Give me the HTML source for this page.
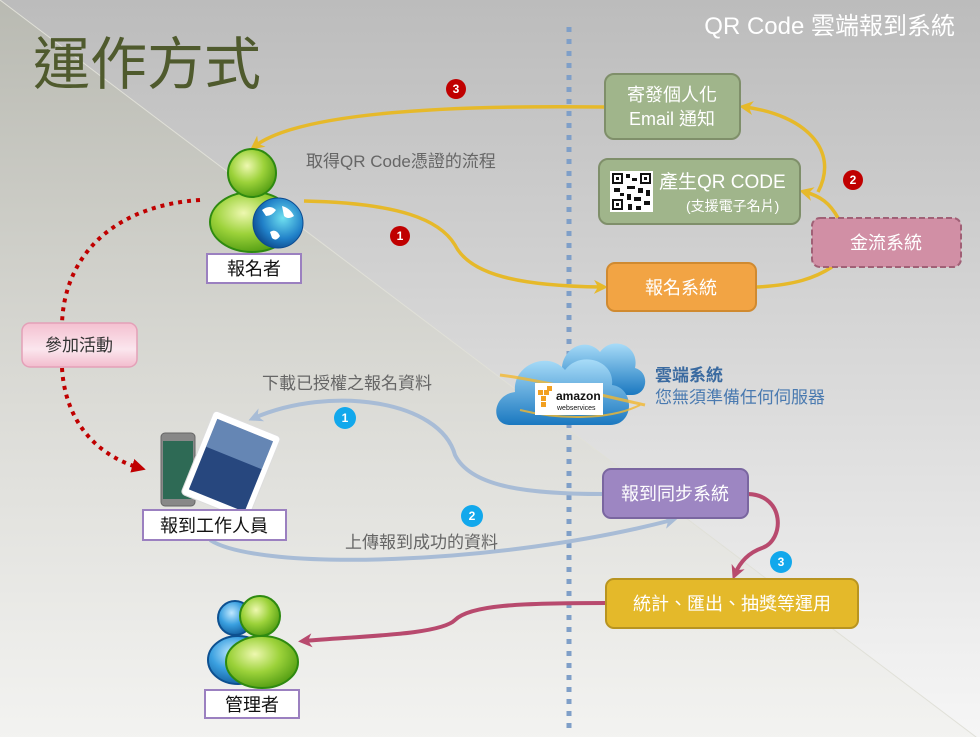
<!DOCTYPE html>
<html><head><meta charset="utf-8"><style>
html,body{margin:0;padding:0;}
body{width:980px;height:737px;overflow:hidden;}
svg{display:block;font-family:"Liberation Sans","Noto Sans CJK TC",sans-serif;}
</style></head><body>
<svg width="980" height="737" viewBox="0 0 980 737" xmlns="http://www.w3.org/2000/svg">
<defs>
<linearGradient id="bg" x1="0" y1="0" x2="0" y2="1">
<stop offset="0" stop-color="#bcbcbc"/><stop offset="0.45" stop-color="#d6d6d6"/><stop offset="1" stop-color="#f6f6f6"/></linearGradient>
<linearGradient id="bg2" x1="0" y1="0" x2="0" y2="1">
<stop offset="0" stop-color="#b9bab2"/><stop offset="0.5" stop-color="#d9d9d4"/><stop offset="1" stop-color="#f3f3f1"/></linearGradient>
<radialGradient id="grn" cx="0.4" cy="0.35" r="0.7"><stop offset="0" stop-color="#eef8b0"/><stop offset="0.5" stop-color="#9cd23a"/><stop offset="1" stop-color="#4e9a10"/></radialGradient>
<radialGradient id="blu" cx="0.4" cy="0.35" r="0.7"><stop offset="0" stop-color="#bfe8ff"/><stop offset="0.5" stop-color="#3aa0e0"/><stop offset="1" stop-color="#105a9a"/></radialGradient>
<radialGradient id="glb" cx="0.6" cy="0.4" r="0.7"><stop offset="0" stop-color="#6fe0f0"/><stop offset="0.6" stop-color="#2080c8"/><stop offset="1" stop-color="#0a3f80"/></radialGradient>
<linearGradient id="cld" x1="0" y1="0" x2="0" y2="1"><stop offset="0" stop-color="#a8dcf8"/><stop offset="1" stop-color="#1a78c0"/></linearGradient>
<linearGradient id="pk" x1="0" y1="0" x2="0" y2="1"><stop offset="0" stop-color="#f4c0d0"/><stop offset="0.6" stop-color="#fbe6ee"/><stop offset="1" stop-color="#f2bccd"/></linearGradient>
<marker id="ay" markerWidth="14" markerHeight="14" refX="8" refY="7" orient="auto" markerUnits="userSpaceOnUse"><path d="M0,0 L14,7 L0,14 L4,7z" fill="#e6b92a"/></marker>
<marker id="ab" markerWidth="14" markerHeight="14" refX="8" refY="7" orient="auto" markerUnits="userSpaceOnUse"><path d="M0,0 L14,7 L0,14 L4,7z" fill="#a8bcd6"/></marker>
<marker id="ap" markerWidth="14" markerHeight="14" refX="8" refY="7" orient="auto" markerUnits="userSpaceOnUse"><path d="M0,0 L14,7 L0,14 L4,7z" fill="#b84a6e"/></marker>
<marker id="ar" markerWidth="14" markerHeight="14" refX="8" refY="7" orient="auto" markerUnits="userSpaceOnUse"><path d="M0,0 L14,7 L0,14z" fill="#c00000"/></marker>
</defs>
<rect width="980" height="737" fill="url(#bg)"/>
<polygon points="0,0 980,740 0,740" fill="url(#bg2)"/>
<line x1="0" y1="0" x2="980" y2="740" stroke="#e0e0d8" stroke-width="1"/>

<text x="33" y="84" font-size="57" fill="#4f5a2d">運作方式</text>
<text x="955" y="34" font-size="24" fill="#ffffff" text-anchor="end">QR Code 雲端報到系統</text>

<line x1="569" y1="27" x2="569" y2="730" stroke="#7f9fc8" stroke-width="5" stroke-dasharray="5 7"/>

<g fill="none" stroke="#e6b92a" stroke-width="3.5">
<path d="M605,107 C450,105 300,112 255,146" marker-end="url(#ay)"/>
<path d="M304,201 C400,203 440,220 455,245 C470,275 520,286 602,287" marker-end="url(#ay)"/>
<path d="M757,287 C795,285 815,278 832,267"/>
<path d="M838,218 C830,203 820,196 805,192" marker-end="url(#ay)"/>
<path d="M818,192 C840,150 805,115 745,107" marker-end="url(#ay)"/>
</g>
<g fill="none" stroke="#c00000" stroke-width="4" stroke-dasharray="4 5">
<path d="M200,200 C120,205 65,250 62,323"/>
<path d="M62,368 C65,420 95,455 140,468" marker-end="url(#ar)"/>
</g>
<g fill="none" stroke="#a8bcd6" stroke-width="4">
<path d="M603,494 C520,494 470,485 455,455 C440,400 330,385 254,418" marker-end="url(#ab)"/>
<path d="M210,540 C260,572 500,565 672,520" marker-end="url(#ab)"/>
</g>
<g fill="none" stroke="#b84a6e" stroke-width="4">
<path d="M748,494 C785,495 785,540 762,548 C748,553 740,562 735,574" marker-end="url(#ap)"/>
<path d="M606,603 C520,603 470,605 455,620 C440,635 360,636 304,641" marker-end="url(#ap)"/>
</g>

<g font-size="12" fill="#fff" text-anchor="middle" font-weight="bold">
<circle cx="456" cy="89" r="10" fill="#c00000"/><text x="456" y="93">3</text>
<circle cx="400" cy="236" r="10" fill="#c00000"/><text x="400" y="240">1</text>
<circle cx="853" cy="180" r="10" fill="#c00000"/><text x="853" y="184">2</text>
<circle cx="345" cy="418" r="11" fill="#12a8ec"/><text x="345" y="422">1</text>
<circle cx="472" cy="516" r="11" fill="#12a8ec"/><text x="472" y="520">2</text>
<circle cx="781" cy="562" r="11" fill="#12a8ec"/><text x="781" y="566">3</text>
</g>

<rect x="605" y="74" width="135" height="65" rx="9" fill="#a0b58b" stroke="#7f8f6a" stroke-width="2"/>
<text x="672" y="101" font-size="18" fill="#fff" text-anchor="middle">寄發個人化</text>
<text x="672" y="125" font-size="18" fill="#fff" text-anchor="middle">Email 通知</text>

<rect x="599" y="159" width="201" height="65" rx="9" fill="#a0b58b" stroke="#7f8f6a" stroke-width="2"/>
<rect x="610" y="171" width="43" height="41" fill="#fff"/>
<g fill="#111">
<rect x="612" y="173" width="11" height="11"/><rect x="640" y="173" width="11" height="11"/><rect x="612" y="199" width="11" height="11"/>
<rect x="614" y="175" width="7" height="7" fill="#fff"/><rect x="642" y="175" width="7" height="7" fill="#fff"/><rect x="614" y="201" width="7" height="7" fill="#fff"/>
<rect x="616" y="177" width="3" height="3"/><rect x="644" y="177" width="3" height="3"/><rect x="616" y="203" width="3" height="3"/>
<rect x="626" y="174" width="4" height="4"/><rect x="632" y="178" width="5" height="3"/><rect x="627" y="186" width="8" height="3"/><rect x="614" y="188" width="6" height="4"/>
<rect x="638" y="188" width="5" height="5"/><rect x="646" y="190" width="4" height="6"/><rect x="627" y="194" width="4" height="6"/><rect x="634" y="197" width="7" height="4"/>
<rect x="644" y="201" width="6" height="4"/><rect x="628" y="204" width="4" height="6"/><rect x="636" y="206" width="5" height="4"/><rect x="620" y="193" width="4" height="3"/>
</g>
<text x="659" y="188" font-size="19" fill="#fff">產生QR CODE</text>
<text x="686" y="211" font-size="14" fill="#fff">(支援電子名片)</text>

<rect x="812" y="218" width="149" height="49" rx="8" fill="#d18fa5" stroke="#a06076" stroke-width="2" stroke-dasharray="6 3"/>
<text x="886" y="249" font-size="18" fill="#fff" text-anchor="middle">金流系統</text>

<rect x="607" y="263" width="149" height="48" rx="8" fill="#f2a444" stroke="#d08a30" stroke-width="2"/>
<text x="681" y="294" font-size="18" fill="#fff" text-anchor="middle">報名系統</text>

<rect x="603" y="469" width="145" height="49" rx="8" fill="#9d86c2" stroke="#7a66a0" stroke-width="2"/>
<text x="675" y="500" font-size="18" fill="#fff" text-anchor="middle">報到同步系統</text>

<rect x="606" y="579" width="252" height="49" rx="8" fill="#e4b92a" stroke="#b89420" stroke-width="2"/>
<text x="732" y="610" font-size="18" fill="#fff" text-anchor="middle">統計、匯出、抽獎等運用</text>

<rect x="22" y="323" width="115" height="44" rx="8" fill="url(#pk)" stroke="#e4a0b8" stroke-width="1.5"/>
<text x="79" y="351" font-size="17" fill="#333" text-anchor="middle">參加活動</text>

<text x="306" y="167" font-size="17" fill="#666">取得QR Code憑證的流程</text>
<text x="262" y="389" font-size="17" fill="#666">下載已授權之報名資料</text>
<text x="345" y="548" font-size="17" fill="#666">上傳報到成功的資料</text>
<text x="655" y="381" font-size="17" fill="#3a6aa0" font-weight="bold">雲端系統</text>
<text x="655" y="403" font-size="17" fill="#4a7ab0">您無須準備任何伺服器</text>

<ellipse cx="252" cy="222" rx="42" ry="30" fill="url(#grn)" stroke="#2e8a10" stroke-width="2"/>
<circle cx="252" cy="173" r="24" fill="url(#grn)" stroke="#2e8a10" stroke-width="2"/>
<circle cx="278" cy="223" r="25" fill="url(#glb)" stroke="#0a4a90" stroke-width="1"/>
<path d="M262,210 q8,-6 14,0 q-4,6 -10,6z M282,206 q8,2 12,10 q-6,4 -10,0z M270,232 q6,-4 10,4 q-4,6 -8,2z" fill="#fff"/>
<rect x="207" y="254" width="94" height="29" fill="#fff" stroke="#9b80c0" stroke-width="2"/>
<text x="254" y="275" font-size="18" fill="#111" text-anchor="middle">報名者</text>

<rect x="161" y="433" width="34" height="73" rx="4" fill="#888" stroke="#666"/>
<rect x="163" y="441" width="30" height="58" fill="#2e6a55"/>
<g transform="rotate(22 230 465)">
<rect x="195" y="420" width="72" height="90" rx="4" fill="#fff" stroke="#ddd"/>
<rect x="201" y="427" width="60" height="76" fill="#27477e"/>
<rect x="201" y="427" width="60" height="30" fill="#8fb0d8" opacity="0.6"/>
</g>
<rect x="143" y="510" width="143" height="30" fill="#fff" stroke="#9b80c0" stroke-width="2"/>
<text x="214" y="532" font-size="18" fill="#111" text-anchor="middle">報到工作人員</text>

<ellipse cx="238" cy="660" rx="30" ry="24" fill="url(#blu)" stroke="#0d5090" stroke-width="2"/>
<circle cx="235" cy="618" r="17" fill="url(#blu)" stroke="#0d5090" stroke-width="2"/>
<ellipse cx="262" cy="662" rx="36" ry="26" fill="url(#grn)" stroke="#2e8a10" stroke-width="2"/>
<circle cx="260" cy="616" r="20" fill="url(#grn)" stroke="#2e8a10" stroke-width="2"/>
<rect x="205" y="690" width="94" height="28" fill="#fff" stroke="#9b80c0" stroke-width="2"/>
<text x="252" y="711" font-size="18" fill="#111" text-anchor="middle">管理者</text>

<path d="M560,395 C548,395 548,375 562,372 C560,350 585,335 600,352 C612,335 640,345 635,368 C650,372 648,395 632,395 Z" fill="url(#cld)"/>
<path d="M510,425 C490,425 492,395 515,392 C512,365 548,350 565,370 C580,350 615,360 612,385 C635,388 635,425 610,425 Z" fill="url(#cld)"/>
<path d="M500,375 C540,380 600,395 645,405" fill="none" stroke="#f2b830" stroke-width="3" opacity="0.8"/>
<path d="M520,410 C560,420 610,420 640,405" fill="none" stroke="#f2b830" stroke-width="2" opacity="0.8"/>
<rect x="535" y="383" width="68" height="32" fill="#fff"/>
<g fill="#f2a020"><rect x="538" y="390" width="5" height="5"/><rect x="544" y="390" width="5" height="5"/><rect x="541" y="396" width="5" height="5"/><rect x="547" y="386" width="5" height="5"/><rect x="541" y="402" width="5" height="5"/></g>
<text x="556" y="400" font-size="12" font-weight="bold" fill="#111">amazon</text>
<text x="557" y="410" font-size="7" fill="#111">webservices</text>
</svg>
</body></html>
